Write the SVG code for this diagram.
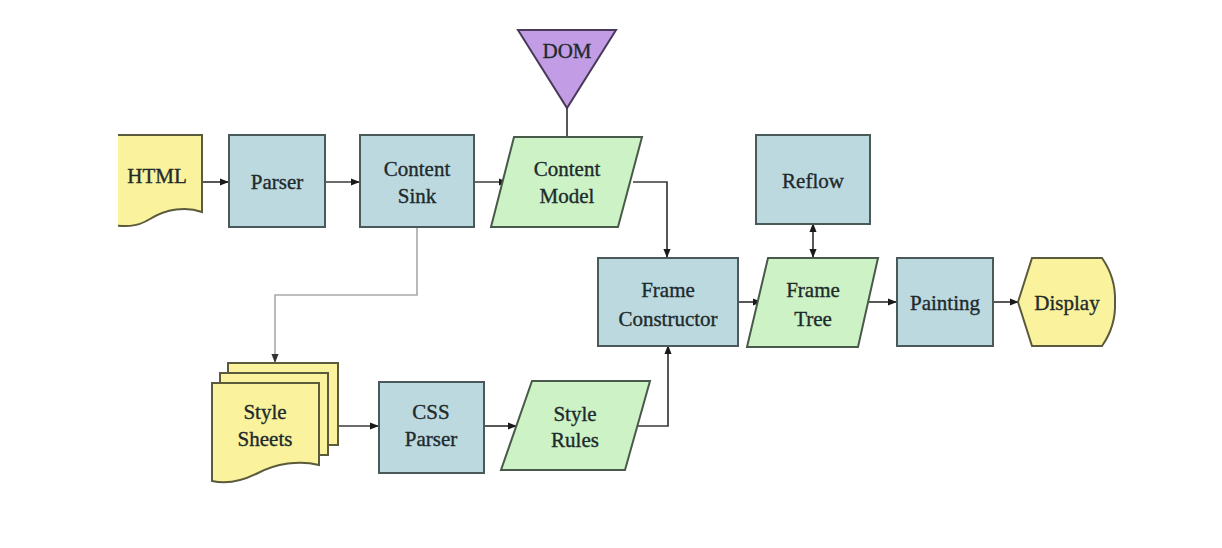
<svg xmlns="http://www.w3.org/2000/svg" width="1222" height="548" viewBox="0 0 1222 548">
<defs>
<style>
.box{fill:#bcd9df;stroke:#4a5a5b;stroke-width:2}
.para{fill:#ccf2c6;stroke:#4a5a4a;stroke-width:2}
.doc{fill:#faf29c;stroke:#5a5a3c;stroke-width:2}
.tri{fill:#c39ce6;stroke:#4a3a5a;stroke-width:2}
.lbl{font-family:"Liberation Serif","Times New Roman",serif;font-size:21px;fill:#1e2a2c;stroke:#1e2a2c;stroke-width:0.35;text-anchor:middle}
.edge{fill:none;stroke:#3a3a3a;stroke-width:1.7}
.light{fill:none;stroke:#a8a8a8;stroke-width:1.6}
</style>
<marker id="ah" viewBox="0 0 10 10" refX="9" refY="5" markerWidth="9" markerHeight="9" orient="auto-start-reverse" markerUnits="userSpaceOnUse">
<path d="M0,1 L10,5 L0,9 Z" fill="#1a1a1a"/>
</marker>
<marker id="ahl" viewBox="0 0 10 10" refX="9" refY="5" markerWidth="9" markerHeight="9" orient="auto" markerUnits="userSpaceOnUse">
<path d="M0,1 L10,5 L0,9 Z" fill="#333"/>
</marker>
<clipPath id="crop"><rect x="118" y="0" width="1000" height="484"/></clipPath>
</defs>
<rect width="1222" height="548" fill="#ffffff"/>
<g clip-path="url(#crop)">
<g id="connectors">
<line class="edge" x1="203" y1="182" x2="228" y2="182" marker-end="url(#ah)"/>
<line class="edge" x1="325" y1="182" x2="359" y2="182" marker-end="url(#ah)"/>
<line class="edge" x1="474" y1="182" x2="507" y2="182" marker-end="url(#ah)"/>
<line class="edge" x1="567" y1="108" x2="567" y2="137"/>
<polyline class="edge" points="633,182 667,182 667,257" marker-end="url(#ah)"/>
<polyline class="light" points="417,227 417,295 275,295 275,362" marker-end="url(#ahl)"/>
<line class="edge" x1="338" y1="426" x2="378" y2="426" marker-end="url(#ah)"/>
<line class="edge" x1="484" y1="426" x2="516" y2="426" marker-end="url(#ah)"/>
<polyline class="edge" points="637,426 668,426 668,346" marker-end="url(#ah)"/>
<line class="edge" x1="738" y1="302" x2="761" y2="302" marker-end="url(#ah)"/>
<line class="edge" x1="813" y1="224" x2="813" y2="257" marker-start="url(#ah)" marker-end="url(#ah)"/>
<line class="edge" x1="866" y1="302" x2="896" y2="302" marker-end="url(#ah)"/>
<line class="edge" x1="993" y1="302" x2="1018" y2="302" marker-end="url(#ah)"/>
</g>
<g id="html">
<path class="doc" d="M100,135 H202 V212 C186,206 166,209 150,219 C137,227 126,228 100,223 Z"/>
<text class="lbl" x="157" y="183">HTML</text>
</g>
<g id="parser">
<rect class="box" x="229" y="135" width="96" height="92"/>
<text class="lbl" x="277" y="189">Parser</text>
</g>
<g id="content-sink">
<rect class="box" x="360" y="135" width="114" height="92"/>
<text class="lbl" x="417" y="176">Content</text>
<text class="lbl" x="417" y="203">Sink</text>
</g>
<g id="dom">
<path class="tri" d="M518,30 H616 L567,108 Z"/>
<text class="lbl" x="567" y="58">DOM</text>
</g>
<g id="content-model">
<path class="para" d="M514,137 H642 L618,227 H491 Z"/>
<text class="lbl" x="567" y="176">Content</text>
<text class="lbl" x="567" y="203">Model</text>
</g>
<g id="reflow">
<rect class="box" x="756" y="135" width="114" height="89"/>
<text class="lbl" x="813" y="188">Reflow</text>
</g>
<g id="frame-constructor">
<rect class="box" x="598" y="258" width="140" height="88"/>
<text class="lbl" x="668" y="297">Frame</text>
<text class="lbl" x="668" y="326">Constructor</text>
</g>
<g id="frame-tree">
<path class="para" d="M768,258 H878 L858,347 H747 Z"/>
<text class="lbl" x="813" y="297">Frame</text>
<text class="lbl" x="813" y="326">Tree</text>
</g>
<g id="painting">
<rect class="box" x="897" y="258" width="96" height="88"/>
<text class="lbl" x="945" y="310">Painting</text>
</g>
<g id="display">
<path class="doc" d="M1018,302 L1032,258 H1102 Q1116,278 1115,302 Q1116,326 1102,346 H1032 Z"/>
<text class="lbl" x="1067" y="310">Display</text>
</g>
<g id="style-sheets">
<rect class="doc" x="228" y="363" width="110" height="82"/>
<rect class="doc" x="220" y="373" width="108" height="82"/>
<path class="doc" d="M212,383 H319 V465 C300,460 276,463 256,474 C240,482 226,484 212,481 Z"/>
<text class="lbl" x="265" y="419">Style</text>
<text class="lbl" x="265" y="446">Sheets</text>
</g>
<g id="css-parser">
<rect class="box" x="379" y="382" width="105" height="91"/>
<text class="lbl" x="431" y="419">CSS</text>
<text class="lbl" x="431" y="446">Parser</text>
</g>
<g id="style-rules">
<path class="para" d="M532,381 H650 L625,470 H501 Z"/>
<text class="lbl" x="575" y="421">Style</text>
<text class="lbl" x="575" y="447">Rules</text>
</g>
</g>
</svg>
